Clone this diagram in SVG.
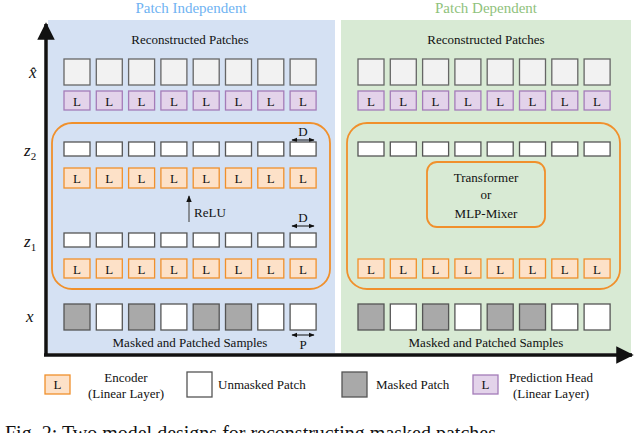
<svg xmlns="http://www.w3.org/2000/svg" width="640" height="433" viewBox="0 0 640 433" font-family="'Liberation Serif', 'DejaVu Serif', serif">
<defs>
<style>
text{fill:#111}
.p{fill:#fff;stroke:#555;stroke-width:1.3}
.r{fill:#f2f2f2;stroke:#666;stroke-width:1.3}
.m{fill:#a9a9a9;stroke:#555;stroke-width:1.3}
.e{fill:#fde1c8;stroke:#f0902c;stroke-width:1.3}
.h{fill:#e3d3ea;stroke:#a47cb8;stroke-width:1.3}
.l{font-size:13px;text-anchor:middle}
.t{font-size:13px;text-anchor:middle}
.v{font-size:17px;font-style:italic}
</style>
<marker id="ah" viewBox="0 0 10 10" refX="9" refY="5" markerWidth="5" markerHeight="5" orient="auto"><path d="M0,0L10,5L0,10z" fill="#111"/></marker>
<marker id="sa" viewBox="0 0 10 10" refX="9" refY="5" markerWidth="6" markerHeight="6" orient="auto"><path d="M0,1L10,5L0,9z" fill="#111"/></marker>
</defs>
<rect width="640" height="433" fill="#fff"/>
<rect x="48" y="20" width="287" height="333" fill="#d5e1f3"/>
<rect x="341" y="20" width="290" height="333" fill="#d8ead4"/>
<text x="191" y="13" style="font-size:15px;fill:#6fb3f2" text-anchor="middle">Patch Independent</text>
<text x="486" y="13" style="font-size:15px;fill:#8fc27c" text-anchor="middle">Patch Dependent</text>
<g id="connectors">
<path d="M46,355V24" stroke="#111" stroke-width="3.5" marker-end="url(#ah)"/>
<path d="M44,355H632" stroke="#111" stroke-width="3.5" marker-end="url(#ah)"/>
<path d="M189,222V196" stroke="#555" stroke-width="1.2" marker-end="url(#sa)"/>
<path d="M303,140H292" stroke="#111" stroke-width="1" marker-end="url(#sa)"/><path d="M303,140H314" stroke="#111" stroke-width="1" marker-end="url(#sa)"/>
<path d="M303,226H292" stroke="#111" stroke-width="1" marker-end="url(#sa)"/><path d="M303,226H314" stroke="#111" stroke-width="1" marker-end="url(#sa)"/>
<path d="M303,335H292" stroke="#111" stroke-width="1" marker-end="url(#sa)"/><path d="M303,335H314" stroke="#111" stroke-width="1" marker-end="url(#sa)"/>
</g>
<text x="29" y="78" class="v">x̂</text>
<text x="24" y="156" class="v">z<tspan font-size="11" dy="4" font-style="normal">2</tspan></text>
<text x="24" y="247" class="v">z<tspan font-size="11" dy="4" font-style="normal">1</tspan></text>
<text x="26" y="322" class="v">x</text>
<g id="left">
<text x="190" y="44" class="t">Reconstructed Patches</text>
<rect x="52" y="123" width="278" height="166" rx="20" fill="none" stroke="#f0902c" stroke-width="1.8"/>
<text x="303" y="136" class="t">D</text><text x="303" y="222" class="t">D</text>
<text x="194" y="217" font-size="13">ReLU</text>
<text x="190" y="347" class="t">Masked and Patched Samples</text>
<text x="303" y="349" class="t">P</text>
</g>
<g id="right">
<text x="486" y="44" class="t">Reconstructed Patches</text>
<rect x="347" y="123" width="273" height="166" rx="20" fill="none" stroke="#f0902c" stroke-width="1.8"/>
<text x="486" y="347" class="t">Masked and Patched Samples</text>
</g>
<g id="left-rows" transform="translate(64,0)">
<g id="lr"><rect class="r" x="0" y="59" width="26" height="26"/><rect class="r" x="32.3" y="59" width="26" height="26"/><rect class="r" x="64.6" y="59" width="26" height="26"/><rect class="r" x="96.9" y="59" width="26" height="26"/><rect class="r" x="129.2" y="59" width="26" height="26"/><rect class="r" x="161.5" y="59" width="26" height="26"/><rect class="r" x="193.8" y="59" width="26" height="26"/><rect class="r" x="226.1" y="59" width="26" height="26"/></g>
<g id="lh"><rect class="h" x="0" y="91" width="26" height="19"/><rect class="h" x="32.3" y="91" width="26" height="19"/><rect class="h" x="64.6" y="91" width="26" height="19"/><rect class="h" x="96.9" y="91" width="26" height="19"/><rect class="h" x="129.2" y="91" width="26" height="19"/><rect class="h" x="161.5" y="91" width="26" height="19"/><rect class="h" x="193.8" y="91" width="26" height="19"/><rect class="h" x="226.1" y="91" width="26" height="19"/>
<text class="l" y="105.5" x="13">L</text><text class="l" y="105.5" x="45.3">L</text><text class="l" y="105.5" x="77.6">L</text><text class="l" y="105.5" x="109.9">L</text><text class="l" y="105.5" x="142.2">L</text><text class="l" y="105.5" x="174.5">L</text><text class="l" y="105.5" x="206.8">L</text><text class="l" y="105.5" x="239.1">L</text></g>
<g id="lz2"><rect class="p" x="0" y="142" width="26" height="14"/><rect class="p" x="32.3" y="142" width="26" height="14"/><rect class="p" x="64.6" y="142" width="26" height="14"/><rect class="p" x="96.9" y="142" width="26" height="14"/><rect class="p" x="129.2" y="142" width="26" height="14"/><rect class="p" x="161.5" y="142" width="26" height="14"/><rect class="p" x="193.8" y="142" width="26" height="14"/><rect class="p" x="226.1" y="142" width="26" height="14"/></g>
<g id="le2"><rect class="e" x="0" y="168" width="26" height="20"/><rect class="e" x="32.3" y="168" width="26" height="20"/><rect class="e" x="64.6" y="168" width="26" height="20"/><rect class="e" x="96.9" y="168" width="26" height="20"/><rect class="e" x="129.2" y="168" width="26" height="20"/><rect class="e" x="161.5" y="168" width="26" height="20"/><rect class="e" x="193.8" y="168" width="26" height="20"/><rect class="e" x="226.1" y="168" width="26" height="20"/>
<text class="l" y="182.5" x="13">L</text><text class="l" y="182.5" x="45.3">L</text><text class="l" y="182.5" x="77.6">L</text><text class="l" y="182.5" x="109.9">L</text><text class="l" y="182.5" x="142.2">L</text><text class="l" y="182.5" x="174.5">L</text><text class="l" y="182.5" x="206.8">L</text><text class="l" y="182.5" x="239.1">L</text></g>
<g id="lz1"><rect class="p" x="0" y="233" width="26" height="14"/><rect class="p" x="32.3" y="233" width="26" height="14"/><rect class="p" x="64.6" y="233" width="26" height="14"/><rect class="p" x="96.9" y="233" width="26" height="14"/><rect class="p" x="129.2" y="233" width="26" height="14"/><rect class="p" x="161.5" y="233" width="26" height="14"/><rect class="p" x="193.8" y="233" width="26" height="14"/><rect class="p" x="226.1" y="233" width="26" height="14"/></g>
<g id="le1"><rect class="e" x="0" y="259" width="26" height="19"/><rect class="e" x="32.3" y="259" width="26" height="19"/><rect class="e" x="64.6" y="259" width="26" height="19"/><rect class="e" x="96.9" y="259" width="26" height="19"/><rect class="e" x="129.2" y="259" width="26" height="19"/><rect class="e" x="161.5" y="259" width="26" height="19"/><rect class="e" x="193.8" y="259" width="26" height="19"/><rect class="e" x="226.1" y="259" width="26" height="19"/>
<text class="l" y="273.5" x="13">L</text><text class="l" y="273.5" x="45.3">L</text><text class="l" y="273.5" x="77.6">L</text><text class="l" y="273.5" x="109.9">L</text><text class="l" y="273.5" x="142.2">L</text><text class="l" y="273.5" x="174.5">L</text><text class="l" y="273.5" x="206.8">L</text><text class="l" y="273.5" x="239.1">L</text></g>
<g id="lx"><rect class="m" x="0" y="304" width="26" height="26"/><rect class="p" x="32.3" y="304" width="26" height="26"/><rect class="m" x="64.6" y="304" width="26" height="26"/><rect class="p" x="96.9" y="304" width="26" height="26"/><rect class="m" x="129.2" y="304" width="26" height="26"/><rect class="m" x="161.5" y="304" width="26" height="26"/><rect class="p" x="193.8" y="304" width="26" height="26"/><rect class="p" x="226.1" y="304" width="26" height="26"/></g>
</g>
<g id="right-rows" transform="translate(358,0)">
<use href="#lr"/><use href="#lh"/><use href="#lz2"/><use href="#le1"/><use href="#lx"/>
</g>
<g id="transformer">
<rect x="427" y="162" width="118" height="65" rx="10" fill="#d8ead4" stroke="#f0902c" stroke-width="1.8"/>
<text x="486" y="182" class="t">Transformer</text>
<text x="486" y="199" class="t">or</text>
<text x="486" y="218" class="t">MLP-Mixer</text>
</g>
<g id="legend">
<rect class="e" x="45" y="375" width="25" height="19"/><text class="l" x="57.5" y="389">L</text>
<text x="126" y="382" class="t">Encoder</text><text x="126" y="398" class="t">(Linear Layer)</text>
<rect class="p" x="187" y="372" width="25" height="25"/><text x="218" y="389" font-size="13">Unmasked Patch</text>
<rect class="m" x="342" y="372" width="25" height="25"/><text x="376" y="389" font-size="13">Masked Patch</text>
<rect class="h" x="473" y="375" width="25" height="19"/><text class="l" x="485.5" y="389">L</text>
<text x="551" y="382" class="t">Prediction Head</text><text x="551" y="398" class="t">(Linear Layer)</text>
</g>
<text x="5" y="440" font-size="20">Fig. 2: Two model designs for reconstructing masked patches</text>
</svg>
